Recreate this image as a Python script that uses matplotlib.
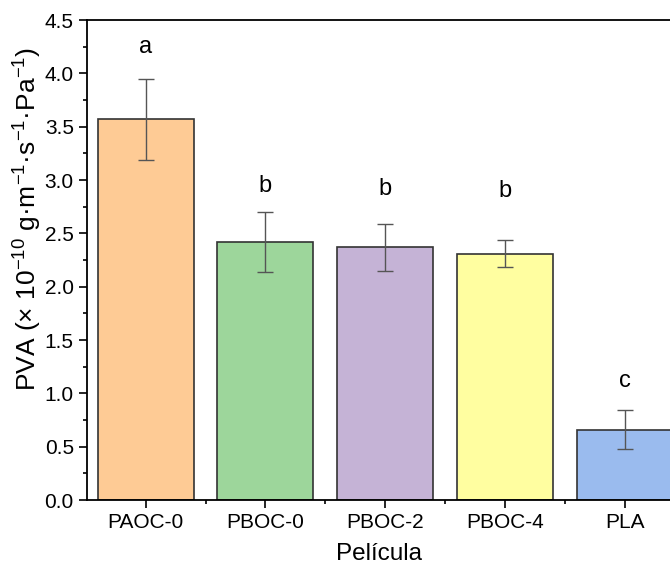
import matplotlib
matplotlib.use("Agg")
import matplotlib.pyplot as plt
from matplotlib.ticker import MultipleLocator

plt.rcParams['font.family'] = ['Liberation Sans', 'DejaVu Sans']
plt.rcParams['mathtext.fontset'] = 'custom'
plt.rcParams['mathtext.rm'] = 'Liberation Sans'
plt.rcParams['mathtext.it'] = 'Liberation Sans'
plt.rcParams['mathtext.default'] = 'regular'

# Data
films = ["PAOC-0", "PBOC-0", "PBOC-2", "PBOC-4", "PLA"]
pva = [3.57, 2.42, 2.37, 2.31, 0.66]
pva_err = [0.38, 0.28, 0.22, 0.13, 0.18]
letters = ["a", "b", "b", "b", "c"]
letter_y = [4.25, 2.94, 2.92, 2.90, 1.12]
colors = ["#FECB95", "#9DD69B", "#C5B3D6", "#FFFEA0", "#9ABBEE"]

fig = plt.figure(figsize=(6.7, 5.71), dpi=100)
ax = fig.add_axes([87 / 670, (571 - 500) / 571, (670 - 87) / 670, (500 - 20) / 571])

x = range(len(films))
ax.bar(x, pva, width=0.8, color=colors, edgecolor="#333333", linewidth=1.2, zorder=2)
ax.errorbar(x, pva, yerr=pva_err, fmt="none", ecolor="#555555", elinewidth=1,
            capsize=6, capthick=1, zorder=3)

for i in x:
    ax.text(i, letter_y[i], letters[i], ha="center", va="center", fontsize=17)

ax.set_xlim(-0.49, 4.38)
ax.set_ylim(0, 4.5)
ax.set_xticks(list(x))
ax.set_xticklabels(films)
ax.xaxis.set_minor_locator(MultipleLocator(0.5))
ax.yaxis.set_major_locator(MultipleLocator(0.5))
ax.yaxis.set_minor_locator(MultipleLocator(0.25))
ax.yaxis.set_major_formatter(matplotlib.ticker.FormatStrFormatter("%.1f"))

ax.tick_params(which="major", direction="out", length=6, width=1.2, labelsize=15)
ax.tick_params(which="minor", direction="out", length=3, width=1.2)
ax.spines["right"].set_visible(False)
for s in ["left", "top", "bottom"]:
    ax.spines[s].set_linewidth(1.3)

ax.set_xlabel("Película", fontsize=17.5, labelpad=8)
# y label sits a bit above the axes centre in the reference
fig.text(28 / 670, 1 - 219 / 571,
         r"PVA ($\times$ 10$^{-10}$ g·m$^{-1}$·s$^{-1}$·Pa$^{-1}$)",
         rotation=90, ha="center", va="center", fontsize=19)

fig.savefig("out.png", dpi=100)
